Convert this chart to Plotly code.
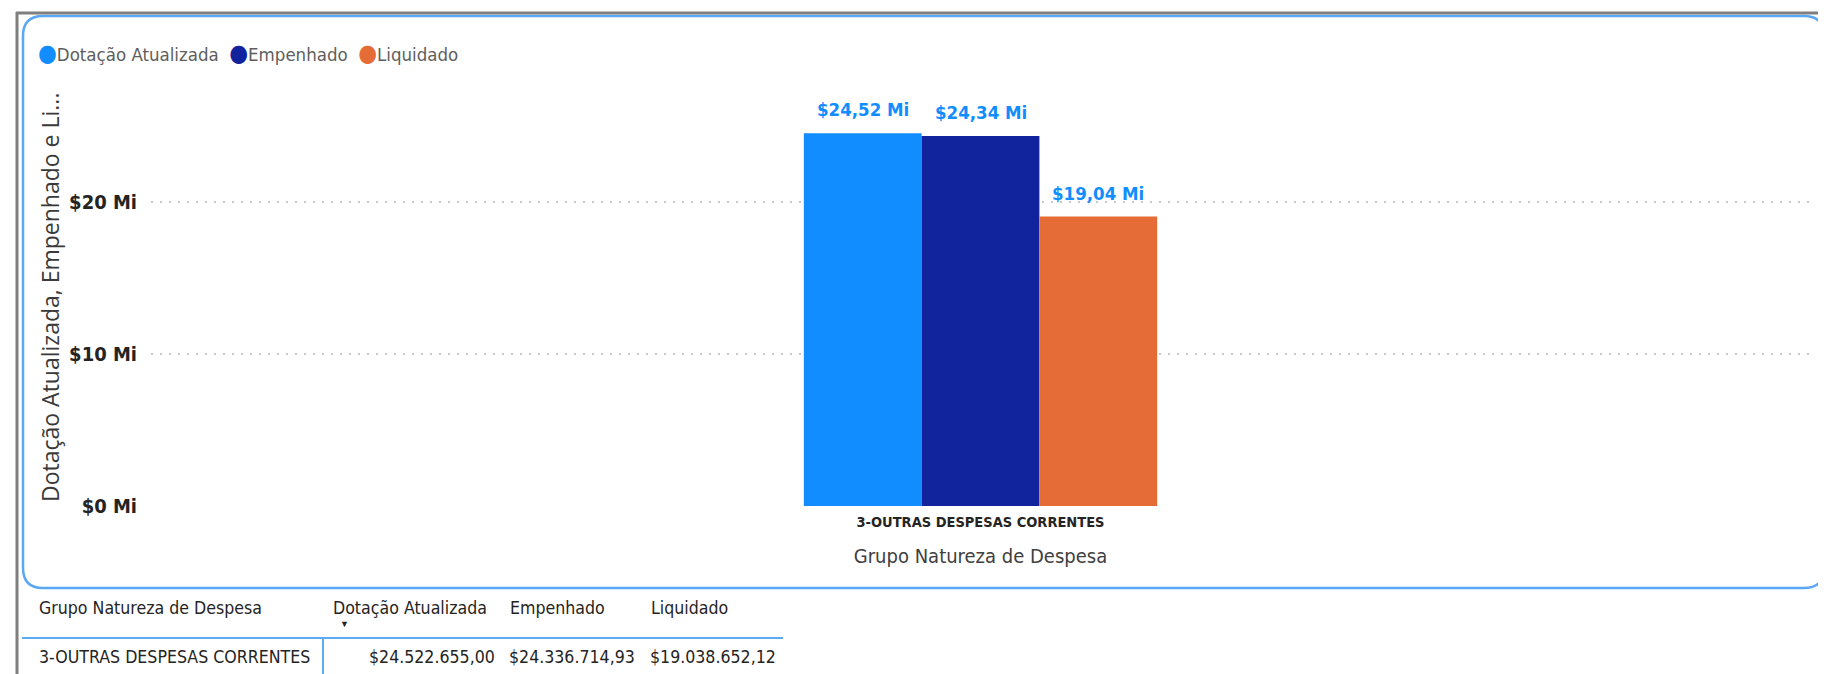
import plotly.graph_objects as go

# dados
categorias = ["3-OUTRAS DESPESAS CORRENTES"]
series = ["Dotação Atualizada", "Empenhado", "Liquidado"]
cores = ["#118DFF", "#12239E", "#E66C37"]
dotacao = [24522655.00]
empenhado = [24336714.93]
liquidado = [19038652.12]
valores = [dotacao, empenhado, liquidado]

y_ticks = [0, 10e6, 20e6]
y_ticktext = ["$0 Mi", "$10 Mi", "$20 Mi"]

tabela_cab = ["Grupo Natureza de Despesa", "Dotação Atualizada", "Empenhado", "Liquidado"]

W, H = 1826, 674
OFF = 8  # margem padrao do body na pagina
L, R, T, B = 143, 24, 72, 176
PW, PH = W - L - R, H - T - B
BARGAP = 0.787

NARROW = "Liberation Sans Narrow, DejaVu Sans Condensed, Arial Narrow, sans-serif"
REG = "Open Sans, Noto Sans, sans-serif"


def px(x):
    # coordenada da pagina -> paper
    return (x - OFF - L) / PW


def py(y):
    return (H - B - (y - OFF)) / PH


def brl(v):
    s = f"{v:,.2f}"
    return "$" + s.replace(",", "X").replace(".", ",").replace("X", ".")


def mi(v):
    return f"${v / 1e6:.2f} Mi".replace(".", ",")


fig = go.Figure()
for nome, cor, vals in zip(series, cores, valores):
    fig.add_trace(go.Bar(x=categorias, y=vals, name=nome, marker=dict(color=cor, line=dict(width=0)),
                         showlegend=False, hoverinfo="skip"))

anns = []
bar_px = PW * (1 - BARGAP) / len(series)
for i, vals in enumerate(valores):
    for c, v in zip(categorias, vals):
        anns.append(dict(x=c, y=v, xref="x", yref="y", text=mi(v), showarrow=False,
                         xshift=(i - 1) * bar_px, yanchor="bottom", yshift=11,
                         font=dict(family=NARROW, size=18.5, color="#118DFF", weight="bold")))

# legenda com circulos
leg = "  ".join(f"<span style='color:{c};font-size:24px'>●</span>{n}" for n, c in zip(series, cores))
anns.append(dict(x=px(36), y=py(53), xref="paper", yref="paper", xanchor="left", yanchor="middle",
                 text=leg, showarrow=False, font=dict(family=NARROW, size=18.5, color="#605E5C")))

# titulo eixo y
anns.append(dict(x=px(50), y=py(298), xref="paper", yref="paper", xanchor="center", yanchor="middle",
                 textangle=-90, showarrow=False, text="Dotação Atualizada, Empenhado e Li...",
                 font=dict(family=REG, size=23, color="#3A3A3A")))

# tabela
col_x = [37, 331, 508, 649]
for t, x in zip(tabela_cab, col_x):
    anns.append(dict(x=px(x), y=py(608), xref="paper", yref="paper", xanchor="left", yanchor="middle",
                     text=t, showarrow=False, font=dict(family=NARROW, size=17.6, color="#252423")))
anns.append(dict(x=px(339), y=py(631), xref="paper", yref="paper", text="▼", showarrow=False,
                 borderpad=0, font=dict(size=9, color="#252423")))
anns.append(dict(x=px(37), y=py(657), xref="paper", yref="paper", xanchor="left", yanchor="middle",
                 text=categorias[0], showarrow=False, font=dict(family=NARROW, size=17.6, color="#252423")))
for vals, xr in zip(valores, [497, 637, 778]):
    anns.append(dict(x=px(xr), y=py(657), xref="paper", yref="paper", xanchor="right", yanchor="middle",
                     text=brl(vals[0]), showarrow=False, font=dict(family=NARROW, size=17.6, color="#252423")))

# cartao arredondado
x0, y0, x1, y1, r = 23, 16, 1824, 588, 20
pts = [("M", x0 + r, y0), ("L", x1 - r, y0), ("Q", x1, y0, x1, y0 + r), ("L", x1, y1 - r),
       ("Q", x1, y1, x1 - r, y1), ("L", x0 + r, y1), ("Q", x0, y1, x0, y1 - r), ("L", x0, y0 + r),
       ("Q", x0, y0, x0 + r, y0)]
path = ""
for p in pts:
    coords = p[1:]
    path += p[0] + " " + " ".join(f"{px(coords[k]):.5f},{py(coords[k + 1]):.5f}" for k in range(0, len(coords), 2)) + " "
path += "Z"

shapes = [
    dict(type="path", path=path, xref="paper", yref="paper", line=dict(color="#5AA8F5", width=2.5)),
    dict(type="line", xref="paper", yref="paper", x0=px(16), x1=px(W + 20), y0=py(13), y1=py(13),
         line=dict(color="#7F7F7F", width=3)),
    dict(type="line", xref="paper", yref="paper", x0=px(17), x1=px(17), y0=py(12), y1=py(H + 20),
         line=dict(color="#7F7F7F", width=3)),
    dict(type="line", xref="paper", yref="paper", x0=px(22), x1=px(783), y0=py(638), y1=py(638),
         line=dict(color="#5AAAF7", width=2)),
    dict(type="line", xref="paper", yref="paper", x0=px(323), x1=px(323), y0=py(639), y1=py(H + 20),
         line=dict(color="#5AAAF7", width=2)),
]

fig.update_layout(
    width=W, height=H,
    margin=dict(l=L, r=R, t=T, b=B, pad=0),
    paper_bgcolor="white", plot_bgcolor="white",
    barmode="group", bargap=BARGAP, bargroupgap=0,
    showlegend=False,
    annotations=anns, shapes=shapes,
    xaxis=dict(showline=False, showgrid=False, ticks="", ticklabelstandoff=5,
               tickfont=dict(family=NARROW, size=14.5, color="#252423", weight="bold"),
               title=dict(text="Grupo Natureza de Despesa", standoff=20,
                          font=dict(family=NARROW, size=20, color="#404040"))),
    yaxis=dict(range=[0, 426 / 152 * 10e6], tickvals=y_ticks, ticktext=y_ticktext, showgrid=True,
               gridcolor="#C8C8C8", griddash="2px,7px", gridwidth=2, zeroline=False, showline=False,
               ticks="", ticklabelstandoff=13,
               tickfont=dict(family=NARROW, size=20, color="#252423", weight="bold")),
)

fig.write_html("out.html")
